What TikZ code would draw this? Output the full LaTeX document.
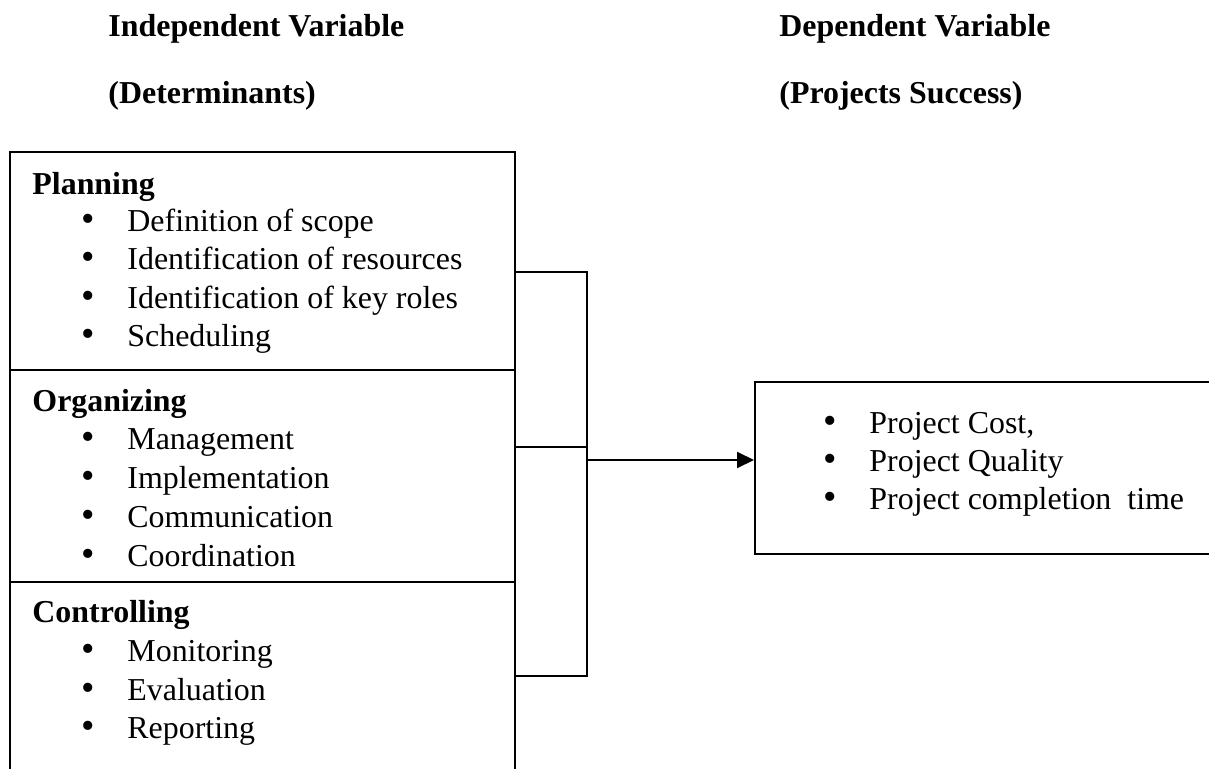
\documentclass[tikz,border=0pt]{standalone}
\usepackage{fontspec}
\setmainfont{Liberation Serif}
\usetikzlibrary{arrows.meta,fit,positioning}

\tikzset{
  frame/.style={draw,line width=.9pt,inner sep=0pt},
  head/.style={font=\fontsize{15}{18}\selectfont\bfseries,anchor=base west,inner sep=0pt},
  dot/.style={font=\fontsize{18}{20}\selectfont,anchor=base,inner sep=0pt},
  itm/.style={font=\fontsize{15}{18}\selectfont,anchor=base west,inner sep=0pt},
  wire/.style={line width=.9pt}
}

\providecommand{\Point}[4]{
\node[dot] (#1-dot) at (#2,#3) {\textbullet};
\node[itm] (#1) at (#2+39,#3) {#4};
}

\begin{document}
\begin{tikzpicture}[x=0.47pt,y=-0.47pt]
\clip (0,0) rectangle (1209,769);

% titles
\node[head] (indep) at (108,37) {Independent Variable};
\node[head] (determ) at (108,104) {(Determinants)};
\node[head] (dep) at (779,37) {Dependent Variable};
\node[head] (succ) at (779,104) {(Projects Success)};

% left boxes
\node[frame,fit={(10,152) (515,370)}] (plan) {};
\node[frame,fit={(10,370) (515,582)}] (org) {};
\node[frame,fit={(10,582) (515,800)}] (ctrl) {};

\node[head] (planh) at (32,194) {Planning};
\Point{p1}{88}{231}{Definition of scope}
\Point{p2}{88}{269}{Identification of resources}
\Point{p3}{88}{308}{Identification of key roles}
\Point{p4}{88}{346}{Scheduling}

\node[head] (orgh) at (32,411) {Organizing};
\Point{o1}{88}{449}{Management}
\Point{o2}{88}{488}{Implementation}
\Point{o3}{88}{527}{Communication}
\Point{o4}{88}{566}{Coordination}

\node[head] (ctrlh) at (32,622) {Controlling};
\Point{c1}{88}{661}{Monitoring}
\Point{c2}{88}{700}{Evaluation}
\Point{c3}{88}{738}{Reporting}

% right box
\node[frame,fit={(755,382) (1230,554)}] (res) {};
\Point{r1}{830}{433}{Project Cost,}
\Point{r2}{830}{471}{Project Quality}
\Point{r3}{830}{509}{Project completion\ \ time}

% connectors
\coordinate (bus) at (587,460);
\draw[wire] (plan.east |- 0,272) -| (bus |- 0,676) -- (ctrl.east |- 0,676);
\draw[wire] (org.east |- 0,447) -- (bus |- 0,447);
\draw[wire,-{Triangle[length=8pt,width=7.5pt]}] (bus) -- (bus -| res.west);
\end{tikzpicture}
\end{document}
